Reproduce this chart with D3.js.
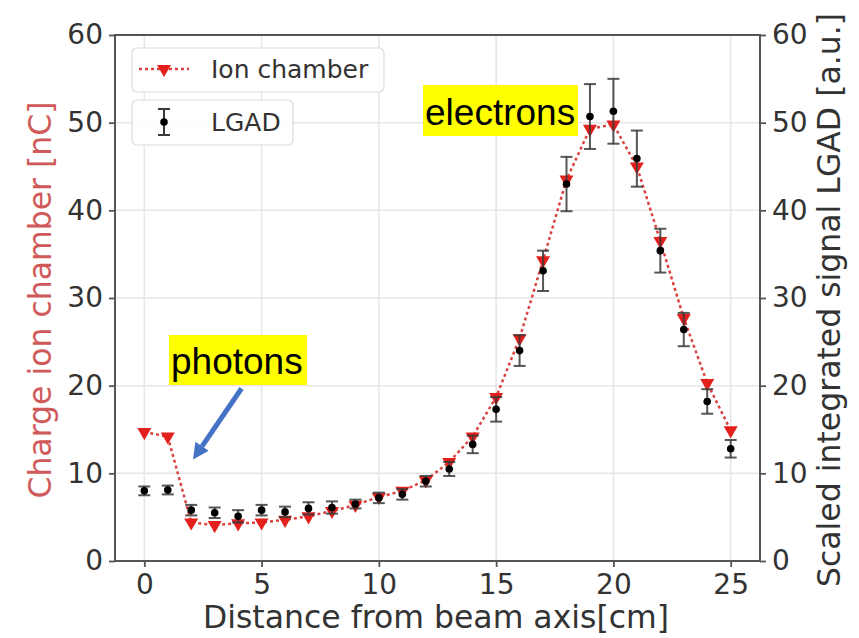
<!DOCTYPE html>
<html>
<head>
<meta charset="utf-8">
<script src="https://cdn.jsdelivr.net/npm/d3@7"></script>
<style>
  html, body { margin: 0; padding: 0; background: #fff; }
  svg { display: block; }
</style>
</head>
<body>
<svg id="chart" width="859" height="638"></svg>
<script>
// ---- data ----
const distance = [0,1,2,3,4,5,6,7,8,9,10,11,12,13,14,15,16,17,18,19,20,21,22,23,24,25];
const ionChamber = [14.7,14.2,4.4,4.1,4.3,4.4,4.7,5.1,5.7,6.4,7.3,8.0,9.2,11.3,14.2,18.7,25.4,34.3,43.5,49.3,49.8,45.0,36.5,27.7,20.3,14.9];
const lgad = [8.0,8.1,5.8,5.5,5.1,5.8,5.6,6.0,6.1,6.5,7.2,7.6,9.1,10.5,13.3,17.3,24.0,33.1,43.0,50.7,51.3,45.9,35.4,26.4,18.2,12.8];
const lgadErr = [0.5,0.5,0.6,0.6,0.7,0.6,0.6,0.7,0.7,0.5,0.6,0.6,0.6,0.8,1.0,1.4,1.75,2.3,3.1,3.7,3.7,3.2,2.5,1.9,1.4,1.0];
const xTicks = [0,5,10,15,20,25];
const yTicks = [0,10,20,30,40,50,60];
const xLabel = "Distance from beam axis[cm]";
const yLeftLabel = "Charge ion chamber [nC]";
const yRightLabel = "Scaled integrated signal LGAD [a.u.]";
const legendLabels = ["Ion chamber", "LGAD"];
const annotations = ["electrons", "photons"];

// ---- layout ----
const plot = {left: 115, right: 760, top: 35, bottom: 561};
const svg = d3.select("#chart");
const x = d3.scaleLinear().domain([-1.25, 26.25]).range([plot.left, plot.right]);
const yL = d3.scaleLinear().domain([0, 60]).range([plot.bottom, plot.top]);
const yR = d3.scaleLinear().domain([0, 60]).range([plot.bottom, plot.top]);

const FONT = "DejaVu Sans, sans-serif";
const axisColor = "#555";
const redMarker = "#e3201c";
const redLine = "#d9423f";

// grid
const grid = svg.append("g");
grid.selectAll("line.gx").data(xTicks).join("line")
  .attr("x1", d => x(d)).attr("x2", d => x(d))
  .attr("y1", plot.top).attr("y2", plot.bottom)
  .attr("stroke", "#e6e6e6").attr("stroke-width", 1.5);
grid.selectAll("line.gy").data(yTicks).join("line")
  .attr("x1", plot.left).attr("x2", plot.right)
  .attr("y1", d => yL(d)).attr("y2", d => yL(d))
  .attr("stroke", "#e6e6e6").attr("stroke-width", 1.5);

// axes
function styleAxis(g) {
  g.selectAll(".domain").remove();
  g.selectAll(".tick line").attr("stroke", axisColor).attr("stroke-width", 1.8);
  g.selectAll(".tick text").attr("fill", "#333").style("font-family", FONT).style("font-size", "28px");
}
const gx = svg.append("g").attr("transform", `translate(0,${plot.bottom})`)
  .call(d3.axisBottom(x).tickValues(xTicks).tickSize(6).tickPadding(7).tickFormat(d3.format("d")));
styleAxis(gx);
const gyl = svg.append("g").attr("transform", `translate(${plot.left},0)`)
  .call(d3.axisLeft(yL).tickValues(yTicks).tickSize(6).tickPadding(6).tickFormat(d3.format("d")));
styleAxis(gyl);
const gyr = svg.append("g").attr("transform", `translate(${plot.right},0)`)
  .call(d3.axisRight(yR).tickValues(yTicks).tickSize(6).tickPadding(6).tickFormat(d3.format("d")));
styleAxis(gyr);

// spines
svg.append("rect").attr("x", plot.left).attr("y", plot.top)
  .attr("width", plot.right - plot.left).attr("height", plot.bottom - plot.top)
  .attr("fill", "none").attr("stroke", axisColor).attr("stroke-width", 2);

// axis labels
svg.append("text").attr("x", 436).attr("y", 628)
  .attr("text-anchor", "middle").style("font-family", FONT).style("font-size", "31.5px")
  .attr("fill", "#333").text(xLabel);
svg.append("text").attr("transform", `translate(51,300) rotate(-90)`)
  .attr("text-anchor", "middle").style("font-family", FONT).style("font-size", "31.5px")
  .attr("fill", "#d05a5a").text(yLeftLabel);
svg.append("text").attr("transform", `translate(840,300) rotate(-90)`)
  .attr("text-anchor", "middle").style("font-family", FONT).style("font-size", "31.5px")
  .attr("fill", "#333").text(yRightLabel);

// ion chamber line
const pts = distance.map((d, i) => ({x: d, ion: ionChamber[i], lg: lgad[i], err: lgadErr[i]}));
svg.append("path").datum(pts)
  .attr("d", d3.line().x(d => x(d.x)).y(d => yL(d.ion)))
  .attr("fill", "none").attr("stroke", redLine).attr("stroke-width", 2.5)
  .attr("stroke-dasharray", "3,3");
const tri = d3.symbol().type(d3.symbolTriangle).size(85);
svg.selectAll("path.ion").data(pts).join("path")
  .attr("d", tri)
  .attr("transform", d => `translate(${x(d.x)},${yL(d.ion)}) rotate(180)`)
  .attr("fill", redMarker);

// LGAD error bars
const eb = svg.append("g");
eb.selectAll("line.v").data(pts).join("line")
  .attr("x1", d => x(d.x)).attr("x2", d => x(d.x))
  .attr("y1", d => yR(d.lg - d.err)).attr("y2", d => yR(d.lg + d.err))
  .attr("stroke", "#3a3a3a").attr("stroke-width", 2).attr("opacity", 0.85);
eb.selectAll("line.c1").data(pts).join("line")
  .attr("x1", d => x(d.x) - 6).attr("x2", d => x(d.x) + 6)
  .attr("y1", d => yR(d.lg + d.err)).attr("y2", d => yR(d.lg + d.err))
  .attr("stroke", "#3a3a3a").attr("stroke-width", 2).attr("opacity", 0.85);
eb.selectAll("line.c2").data(pts).join("line")
  .attr("x1", d => x(d.x) - 6).attr("x2", d => x(d.x) + 6)
  .attr("y1", d => yR(d.lg - d.err)).attr("y2", d => yR(d.lg - d.err))
  .attr("stroke", "#3a3a3a").attr("stroke-width", 2).attr("opacity", 0.85);
eb.selectAll("circle").data(pts).join("circle")
  .attr("cx", d => x(d.x)).attr("cy", d => yR(d.lg)).attr("r", 3.8).attr("fill", "#000");

// legends
const lg = svg.append("g");
lg.append("rect").attr("x", 132).attr("y", 48).attr("width", 252).attr("height", 44)
  .attr("rx", 5).attr("fill", "#fff").attr("fill-opacity", 0.85).attr("stroke", "#dcdcdc").attr("stroke-width", 1.2);
lg.append("line").attr("x1", 139).attr("x2", 189).attr("y1", 69).attr("y2", 69)
  .attr("stroke", redLine).attr("stroke-width", 2.5).attr("stroke-dasharray", "3,3");
lg.append("path").attr("d", tri).attr("transform", "translate(164,69) rotate(180)").attr("fill", redMarker);
lg.append("text").attr("x", 211).attr("y", 78).style("font-family", FONT).style("font-size", "25px")
  .attr("fill", "#333").text(legendLabels[0]);

lg.append("rect").attr("x", 132).attr("y", 100).attr("width", 161).attr("height", 45)
  .attr("rx", 5).attr("fill", "#fff").attr("fill-opacity", 0.85).attr("stroke", "#dcdcdc").attr("stroke-width", 1.2);
lg.append("line").attr("x1", 164).attr("x2", 164).attr("y1", 109).attr("y2", 135)
  .attr("stroke", "#3a3a3a").attr("stroke-width", 2);
lg.append("line").attr("x1", 158).attr("x2", 170).attr("y1", 109).attr("y2", 109)
  .attr("stroke", "#3a3a3a").attr("stroke-width", 2);
lg.append("line").attr("x1", 158).attr("x2", 170).attr("y1", 135).attr("y2", 135)
  .attr("stroke", "#3a3a3a").attr("stroke-width", 2);
lg.append("circle").attr("cx", 164).attr("cy", 122).attr("r", 3.8).attr("fill", "#000");
lg.append("text").attr("x", 211).attr("y", 131).style("font-family", FONT).style("font-size", "25px")
  .attr("fill", "#333").text(legendLabels[1]);

// annotations
const ANN_FONT = "Liberation Sans, Arial, sans-serif";
svg.append("rect").attr("x", 423).attr("y", 85).attr("width", 155).attr("height", 51).attr("fill", "#ffff00");
svg.append("text").attr("x", 425).attr("y", 125).style("font-family", ANN_FONT).style("font-size", "37px")
  .attr("fill", "#000").text(annotations[0]);
svg.append("rect").attr("x", 169).attr("y", 335).attr("width", 138).attr("height", 50).attr("fill", "#ffff00");
svg.append("text").attr("x", 171).attr("y", 374).style("font-family", ANN_FONT).style("font-size", "37px")
  .attr("fill", "#000").text(annotations[1]);

// arrow
const arrowColor = "#4472c4";
const ax1 = 241.5, ay1 = 388.5, ax2 = 193, ay2 = 459.5;
const ang = Math.atan2(ay2 - ay1, ax2 - ax1);
const headLen = 16, headW = 8;
const bx = ax2 - headLen * Math.cos(ang), by = ay2 - headLen * Math.sin(ang);
svg.append("line").attr("x1", ax1).attr("y1", ay1).attr("x2", bx).attr("y2", by)
  .attr("stroke", arrowColor).attr("stroke-width", 5);
svg.append("path")
  .attr("d", `M${ax2},${ay2} L${bx + headW * Math.sin(ang)},${by - headW * Math.cos(ang)} L${bx - headW * Math.sin(ang)},${by + headW * Math.cos(ang)} Z`)
  .attr("fill", arrowColor);
</script>
</body>
</html>
